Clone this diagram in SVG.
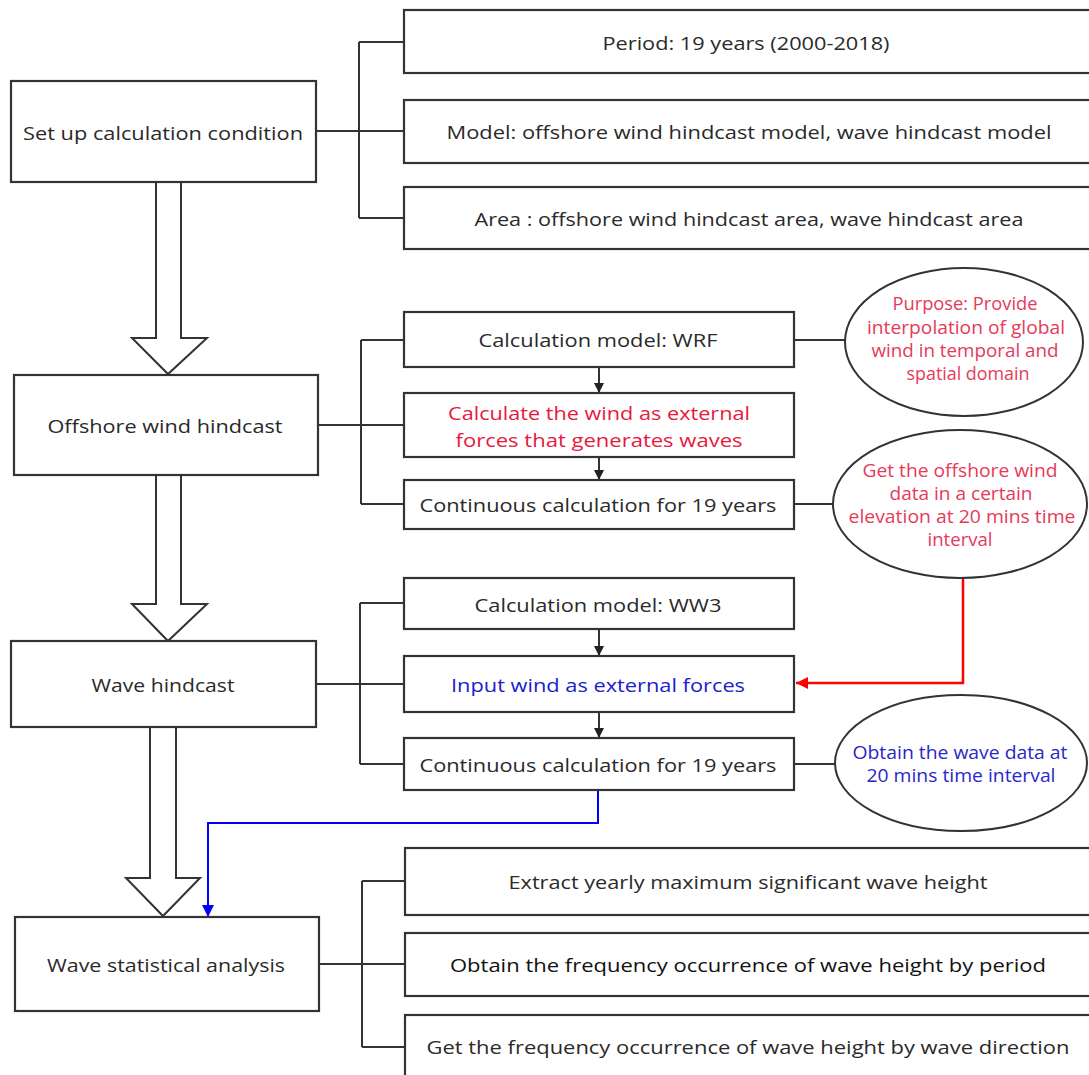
<svg xmlns="http://www.w3.org/2000/svg" width="1089" height="1075" viewBox="0 0 1089 1075">
<defs>
<marker id="ah" viewBox="0 0 10 10" refX="10" refY="5" markerWidth="12" markerHeight="10" markerUnits="userSpaceOnUse" orient="auto"><path d="M0,0 L10,5 L0,10 z" fill="#222"/></marker>
<marker id="ahr" viewBox="0 0 10 10" refX="10" refY="5" markerWidth="14" markerHeight="12" markerUnits="userSpaceOnUse" orient="auto"><path d="M0,0 L10,5 L0,10 z" fill="#ff0000"/></marker>
<marker id="ahb" viewBox="0 0 10 10" refX="10" refY="5" markerWidth="14" markerHeight="12" markerUnits="userSpaceOnUse" orient="auto"><path d="M0,0 L10,5 L0,10 z" fill="#0000ff"/></marker>
</defs>
<style>
.box{fill:#fff;stroke:#333;stroke-width:2.2}
.ell{fill:#fff;stroke:#333;stroke-width:2}
.ln{fill:none;stroke:#333;stroke-width:2}
.big{fill:#fff;stroke:#333;stroke-width:2;stroke-linejoin:miter}
text{font-family:"Open Sans","Noto Sans","Liberation Sans",sans-serif;font-size:19px;fill:#2a2a2a;text-anchor:middle}
.red{fill:#e8183c}
.pink{fill:#e63a5a;font-size:18px}
.blue{fill:#2020cc}
.blue2{fill:#2828c8;font-size:18px}
.dark{fill:#111}
</style>
<rect width="1089" height="1075" fill="#fff"/>

<g id="connectors">
<path class="ln" d="M316,131 H359 M359,42 V218 M359,42 H404 M359,131 H404 M359,218 H404"/>
<path class="ln" d="M318,425 H361 M361,340 V504 M361,340 H404 M361,425 H404 M361,504 H404"/>
<path class="ln" d="M599,367 V393" marker-end="url(#ah)"/>
<path class="ln" d="M599,457 V480" marker-end="url(#ah)"/>
<path class="ln" d="M794,340 H845"/>
<path class="ln" d="M794,504 H833"/>
<path d="M963,578 V683 H796" fill="none" stroke="#ff0000" stroke-width="2.5" marker-end="url(#ahr)"/>
<path class="ln" d="M316,684 H360 M360,603 V764 M360,603 H404 M360,684 H404 M360,764 H404"/>
<path class="ln" d="M599,629 V656" marker-end="url(#ah)"/>
<path class="ln" d="M599,712 V738" marker-end="url(#ah)"/>
<path class="ln" d="M794,764 H835"/>
<path d="M598,790 V823 H208 V917" fill="none" stroke="#0000ff" stroke-width="2" marker-end="url(#ahb)"/>
<path class="ln" d="M319,964 H362 M362,881 V1047 M362,881 H405 M362,964 H405 M362,1047 H405"/>
<path class="big" d="M156,182 V338 H132 L168,374 L207,338 H181 V182"/>
<path class="big" d="M156,475 V604 H132 L168,641 L207,604 H181 V475"/>
<path class="big" d="M150,727 V878 H126 L163,916 L200,878 H176 V727"/>
</g>

<g id="n-setup"><rect class="box" x="11" y="81" width="305" height="101"/><text x="163" y="140" textLength="280" lengthAdjust="spacingAndGlyphs">Set up calculation condition</text></g>
<g id="n-period"><rect class="box" x="404" y="10" width="700" height="63"/><text x="746" y="50" textLength="287" lengthAdjust="spacingAndGlyphs">Period: 19 years (2000-2018)</text></g>
<g id="n-model"><rect class="box" x="404" y="100" width="700" height="63"/><text x="749" y="139" textLength="605" lengthAdjust="spacingAndGlyphs">Model: offshore wind hindcast model, wave hindcast model</text></g>
<g id="n-area"><rect class="box" x="404" y="187" width="700" height="62"/><text x="749" y="226" textLength="549" lengthAdjust="spacingAndGlyphs">Area : offshore wind hindcast area, wave hindcast area</text></g>

<g id="n-offshore"><rect class="box" x="14" y="375" width="304" height="100"/><text x="165" y="433" textLength="235" lengthAdjust="spacingAndGlyphs">Offshore wind hindcast</text></g>
<g id="n-wrf"><rect class="box" x="404" y="312" width="390" height="55"/><text x="598" y="347" textLength="239" lengthAdjust="spacingAndGlyphs">Calculation model: WRF</text></g>
<g id="n-calcwind"><rect class="box" x="404" y="393" width="390" height="64"/><text class="red" x="599" y="420" textLength="302" lengthAdjust="spacingAndGlyphs">Calculate the wind as external</text><text class="red" x="599" y="447" textLength="287" lengthAdjust="spacingAndGlyphs">forces that generates waves</text></g>
<g id="n-cont1"><rect class="box" x="404" y="480" width="390" height="49"/><text x="598" y="512" textLength="357" lengthAdjust="spacingAndGlyphs">Continuous calculation for 19 years</text></g>
<g id="n-purpose"><ellipse class="ell" cx="964" cy="342" rx="119" ry="74"/>
<text class="pink" x="965" y="310" textLength="145" lengthAdjust="spacingAndGlyphs">Purpose: Provide</text>
<text class="pink" x="966" y="334" textLength="198" lengthAdjust="spacingAndGlyphs">interpolation of global</text>
<text class="pink" x="965" y="357" textLength="187" lengthAdjust="spacingAndGlyphs">wind in temporal and</text>
<text class="pink" x="968" y="380" textLength="123" lengthAdjust="spacingAndGlyphs">spatial domain</text></g>
<g id="n-getwind"><ellipse class="ell" cx="960" cy="504" rx="127" ry="74"/>
<text class="pink" x="960" y="477" textLength="195" lengthAdjust="spacingAndGlyphs">Get the offshore wind</text>
<text class="pink" x="961" y="500" textLength="143" lengthAdjust="spacingAndGlyphs">data in a certain</text>
<text class="pink" x="962" y="523" textLength="227" lengthAdjust="spacingAndGlyphs">elevation at 20 mins time</text>
<text class="pink" x="960" y="546" textLength="65" lengthAdjust="spacingAndGlyphs">interval</text></g>

<g id="n-wave"><rect class="box" x="11" y="641" width="305" height="86"/><text x="163" y="692" textLength="143" lengthAdjust="spacingAndGlyphs">Wave hindcast</text></g>
<g id="n-ww3"><rect class="box" x="404" y="578" width="390" height="51"/><text x="598" y="612" textLength="247" lengthAdjust="spacingAndGlyphs">Calculation model: WW3</text></g>
<g id="n-input"><rect class="box" x="404" y="656" width="390" height="56"/><text class="blue" x="598" y="692" textLength="294" lengthAdjust="spacingAndGlyphs">Input wind as external forces</text></g>
<g id="n-cont2"><rect class="box" x="404" y="738" width="390" height="52"/><text x="598" y="772" textLength="357" lengthAdjust="spacingAndGlyphs">Continuous calculation for 19 years</text></g>
<g id="n-obtainwave"><ellipse class="ell" cx="961" cy="763" rx="126" ry="68"/>
<text class="blue2" x="960" y="759" textLength="215" lengthAdjust="spacingAndGlyphs">Obtain the wave data at</text>
<text class="blue2" x="961" y="782" textLength="189" lengthAdjust="spacingAndGlyphs">20 mins time interval</text></g>

<g id="n-stat"><rect class="box" x="15" y="917" width="304" height="94"/><text x="166" y="972" textLength="238" lengthAdjust="spacingAndGlyphs">Wave statistical analysis</text></g>
<g id="n-extract"><rect class="box" x="405" y="848" width="700" height="67"/><text x="748" y="889" textLength="479" lengthAdjust="spacingAndGlyphs">Extract yearly maximum significant wave height</text></g>
<g id="n-freqperiod"><rect class="box" x="405" y="933" width="700" height="63"/><text class="dark" x="748" y="972" textLength="596" lengthAdjust="spacingAndGlyphs">Obtain the frequency occurrence of wave height by period</text></g>
<g id="n-freqdir"><rect class="box" x="405" y="1015" width="700" height="80"/><text x="748" y="1054" textLength="643" lengthAdjust="spacingAndGlyphs">Get the frequency occurrence of wave height by wave direction</text></g>
</svg>
